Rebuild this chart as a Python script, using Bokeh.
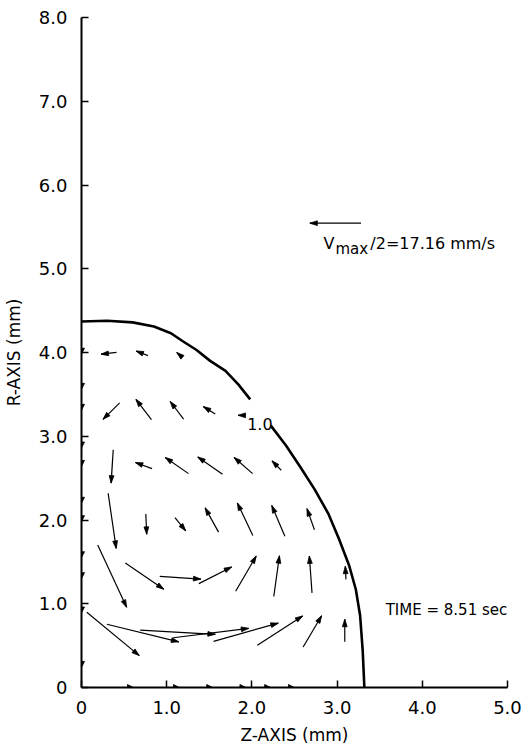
import numpy as np
from bokeh.plotting import figure
from bokeh.models import Range1d, FixedTicker, Label
from bokeh.embed import file_html
from bokeh.resources import INLINE

# ---------------- data ----------------
X_TICKS = [0, 1, 2, 3, 4, 5]
X_TICK_LABELS = ["0", "1.0", "2.0", "3.0", "4.0", "5.0"]
Y_TICKS = [0, 1, 2, 3, 4, 5, 6, 7, 8]
Y_TICK_LABELS = ["0", "1.0", "2.0", "3.0", "4.0", "5.0", "6.0", "7.0", "8.0"]

# free surface (drop boundary), two pieces (gap for contour label)
SURF_Z_A = [0.0, 0.30, 0.60, 0.85, 1.05, 1.18, 1.35, 1.51, 1.69, 1.84, 1.98]
SURF_R_A = [4.37, 4.38, 4.36, 4.31, 4.23, 4.14, 4.03, 3.90, 3.78, 3.62, 3.44]
SURF_Z_B = [2.22, 2.40, 2.57, 2.74, 2.90, 3.02, 3.14, 3.22, 3.27, 3.30, 3.32]
SURF_R_B = [3.13, 2.89, 2.63, 2.36, 2.07, 1.78, 1.46, 1.17, 0.86, 0.45, 0.0]

# velocity vectors: position (mm) and components (mm/s)
VEC_Z = [0.32, 0.71, 1.13,
         0.35, 0.73, 1.12, 1.50, 1.86,
         0.36, 0.73, 1.12, 1.51, 1.90, 2.29,
         0.36, 0.76, 1.16, 1.53, 1.92, 2.31, 2.69,
         0.36, 0.74, 1.16, 1.57, 1.93, 2.29, 2.69, 3.10,
         0.37, 0.72, 1.13, 1.52, 1.93, 2.33, 2.71, 3.09]
VEC_R = [3.99, 3.99, 3.99,
         3.30, 3.32, 3.31, 3.31, 3.25,
         2.64, 2.65, 2.65, 2.65, 2.65, 2.65,
         1.99, 1.95, 1.95, 2.00, 2.01, 1.99, 2.01,
         1.33, 1.33, 1.31, 1.34, 1.36, 1.33, 1.35, 1.37,
         0.64, 0.65, 0.66, 0.65, 0.66, 0.68, 0.67, 0.68]
VEC_VZ = [-5.2, -4.0, -0.7,
          -5.6, -5.2, -4.5, -4.0, -1.3,
          -0.7, -5.6, -7.8, -8.3, -6.2, -3.1,
          2.7, 0.3, 3.6, -4.5, -5.2, -4.4, -2.5,
          9.7, 12.9, 13.8, 11.0, 6.9, 1.9, -0.9, -0.2,
          17.6, 24.1, 25.2, 25.3, 21.7, 15.2, 6.2, 0.0]
VEC_VR = [-0.6, 1.6, 0.6,
          -5.6, 6.9, 6.0, 2.5, 0.0,
          -11.4, 2.1, 5.5, 5.9, 5.5, 3.2,
          -18.8, -6.9, -4.5, 8.3, 11.1, 10.5, 7.2,
          -21.3, -8.9, -0.9, 5.7, 12.0, 13.9, 12.6, 4.5,
          -14.8, -6.0, -1.4, 3.2, 6.2, 10.0, 10.7, 7.7]

# tiny flow markers on the symmetry axis (r, pointing down) and on z axis (pointing right)
AXIS_R_POS = [3.98, 3.56, 3.31, 2.86, 2.64, 2.20, 1.98, 1.55, 1.30, 0.89, 0.24]
AXIS_Z_POS = [0.61, 1.15, 1.54, 1.93, 2.22, 2.50]

VMAX_HALF = 17.16          # mm/s, reference arrow
TIME_SEC = 8.51
CONTOUR_LABEL = "1.0"

SCALE = 0.035              # mm of arrow per mm/s
FRAME_W, FRAME_H = 426, 670
KX, KY = FRAME_W / 5.0, FRAME_H / 8.0   # px per mm

FONT = "DejaVu Sans"

# ---------------- figure ----------------
p = figure(frame_width=FRAME_W, frame_height=FRAME_H,
           x_range=Range1d(0, 5), y_range=Range1d(0, 8),
           output_backend="svg", toolbar_location=None,
           min_border_left=73, min_border_right=18,
           min_border_top=17, min_border_bottom=49)
p.xgrid.visible = False
p.ygrid.visible = False
p.outline_line_color = None
p.background_fill_color = "white"
p.border_fill_color = "white"

for ax, ticks, labels in ((p.xaxis[0], X_TICKS, X_TICK_LABELS),
                          (p.yaxis[0], Y_TICKS, Y_TICK_LABELS)):
    ax.ticker = FixedTicker(ticks=ticks, minor_ticks=[])
    ax.major_label_overrides = {t: l for t, l in zip(ticks, labels)}
    ax.major_tick_in = 7
    ax.major_tick_out = 0
    ax.minor_tick_in = 0
    ax.minor_tick_out = 0
    ax.axis_line_width = 2
    ax.major_tick_line_width = 1.5
    ax.axis_line_color = "black"
    ax.major_tick_line_color = "black"
    ax.major_label_text_font = FONT
    ax.major_label_text_font_size = "18px"
    ax.major_label_text_color = "black"
    ax.axis_label_text_font = FONT
    ax.axis_label_text_font_size = "17px"
    ax.axis_label_text_font_style = "normal"
    ax.axis_label_text_color = "black"

p.xaxis.axis_label = "Z-AXIS (mm)"
p.yaxis.axis_label = "R-AXIS (mm)"
p.xaxis.major_label_standoff = 13
p.yaxis.major_label_standoff = 14
p.xaxis.axis_label_standoff = 8
p.yaxis.axis_label_standoff = 12

# free surface
p.line(SURF_Z_A, SURF_R_A, line_width=2.6, line_color="black")
p.line(SURF_Z_B, SURF_R_B, line_width=2.6, line_color="black")


def head_patches(xe, ye, ux, uy, L=7.5, W=2.4):
    """triangle heads; ux, uy unit direction in pixel space"""
    xs, ys = [], []
    for x, y, a, b in zip(xe, ye, ux, uy):
        tx, ty = x * KX, y * KY
        bx, by = tx - L * a, ty - L * b
        c1 = (bx - W * b, by + W * a)
        c2 = (bx + W * b, by - W * a)
        xs.append([tx / KX, c1[0] / KX, c2[0] / KX])
        ys.append([ty / KY, c1[1] / KY, c2[1] / KY])
    return xs, ys


# velocity arrows centred on their grid point
vz = np.array(VEC_VZ)
vr = np.array(VEC_VR)
z0 = np.array(VEC_Z) - 0.5 * SCALE * vz
r0 = np.array(VEC_R) - 0.5 * SCALE * vr
z1 = np.array(VEC_Z) + 0.5 * SCALE * vz
r1 = np.array(VEC_R) + 0.5 * SCALE * vr
dpx, dpy = (z1 - z0) * KX, (r1 - r0) * KY
nrm = np.hypot(dpx, dpy)
nrm[nrm == 0] = 1.0
ux, uy = dpx / nrm, dpy / nrm
p.segment(z0, r0, z1, r1, line_width=1.2, line_color="black")
hx, hy = head_patches(z1, r1, ux, uy)
p.patches(hx, hy, fill_color="black", line_color="black", line_width=0.8)

# markers on the symmetry axis (flow downward)
ar = np.array(AXIS_R_POS)
hx, hy = head_patches(np.zeros_like(ar), ar, np.zeros_like(ar), -np.ones_like(ar), L=6.0, W=3.0)
p.patches(hx, hy, fill_color="black", line_color="black", line_width=0.8)

# markers on the z axis (flow to the right)
az = np.array(AXIS_Z_POS)
hx, hy = head_patches(az, np.zeros_like(az), np.ones_like(az), np.zeros_like(az), L=6.0, W=3.0)
p.patches(hx, hy, fill_color="black", line_color="black", line_width=0.8)

# reference arrow Vmax/2
ref_head_z, ref_r = 2.68, 5.544
ref_tail_z = ref_head_z + SCALE * VMAX_HALF
p.segment([ref_tail_z], [ref_r], [ref_head_z], [ref_r], line_width=1.2, line_color="black")
hx, hy = head_patches([ref_head_z], [ref_r], [-1.0], [0.0])
p.patches(hx, hy, fill_color="black", line_color="black", line_width=0.8)

p.add_layout(Label(x=2.84, y=5.30, text="V", text_font=FONT, text_font_size="16px",
                   text_baseline="alphabetic", text_align="left", text_color="black"))
p.add_layout(Label(x=2.98, y=5.23, text="max", text_font=FONT, text_font_size="15px",
                   text_baseline="alphabetic", text_align="left", text_color="black"))
p.add_layout(Label(x=3.39, y=5.30, text="/2=%.2f mm/s" % VMAX_HALF, text_font=FONT,
                   text_font_size="16px", text_baseline="alphabetic", text_align="left",
                   text_color="black"))

p.add_layout(Label(x=3.57, y=0.93, text="TIME = %.2f sec" % TIME_SEC, text_font=FONT,
                   text_font_size="15px", text_baseline="alphabetic", text_align="left",
                   text_color="black"))

p.add_layout(Label(x=1.944, y=3.15, text=CONTOUR_LABEL, text_font=FONT,
                   text_font_size="16px", text_baseline="alphabetic", text_align="left",
                   text_color="black"))

open("out.html", "w").write(file_html(p, INLINE))
